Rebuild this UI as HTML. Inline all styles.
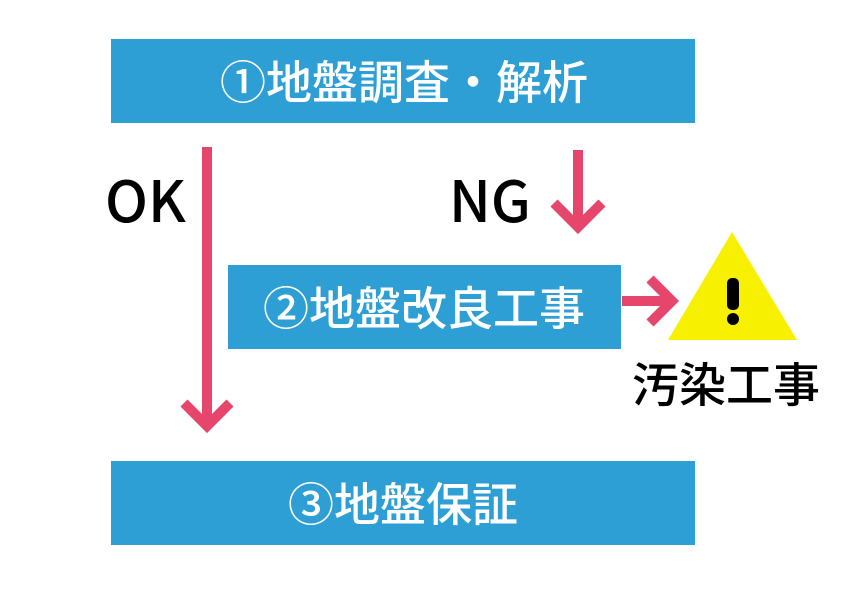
<!DOCTYPE html>
<html><head><meta charset="utf-8"><style>
body{margin:0;width:842px;height:595px;background:#fff;overflow:hidden;position:relative;font-family:"Liberation Sans","Noto Sans CJK JP",sans-serif}
.b{position:absolute;background:#2e9fd4;}
.bt{position:absolute;color:#fff;font-size:46px;font-weight:500;white-space:nowrap;line-height:60px;transform:translateX(-50%);font-family:"Noto Sans CJK JP",sans-serif}
.t{position:absolute;color:#000;font-family:"Noto Sans CJK JP",sans-serif;white-space:nowrap}
</style></head><body>
<div class="b" style="left:111px;top:39px;width:584px;height:84px"></div>
<div class="b" style="left:228px;top:265px;width:393px;height:84px"></div>
<div class="b" style="left:111px;top:461px;width:584px;height:84px"></div>
<div class="bt" style="left:404px;top:50px">①地盤調査・解析</div>
<div class="bt" style="left:424px;top:276px">②地盤改良工事</div>
<div class="bt" style="left:403px;top:472px">③地盤保証</div>
<div class="t" style="left:105px;top:163px;font-size:57px;line-height:70px;font-weight:500">OK</div>
<div class="t" style="left:449px;top:163px;font-size:57px;line-height:70px;font-weight:500">NG</div>
<div class="t" style="left:632px;top:350px;font-size:47px;line-height:64px;font-weight:500">汚染工事</div>
<svg width="842" height="595" style="position:absolute;left:0;top:0">
<g stroke="#e6456c" stroke-width="10" fill="none">
<line x1="207" y1="147" x2="207" y2="424"/>
<polyline points="184,403 207,426 230,403"/>
<line x1="578" y1="150" x2="578" y2="225"/>
<polyline points="554,203 578,227 602,203"/>
<line x1="622" y1="301" x2="672" y2="301"/>
<polyline points="650,279 672,301 650,323"/>
</g>
<polygon points="732,232 668,340 797,340" fill="#f7f000"/>
<rect x="727" y="278" width="12" height="32" rx="5" fill="#000"/>
<circle cx="733" cy="319" r="6" fill="#000"/>
</svg>
</body></html>
